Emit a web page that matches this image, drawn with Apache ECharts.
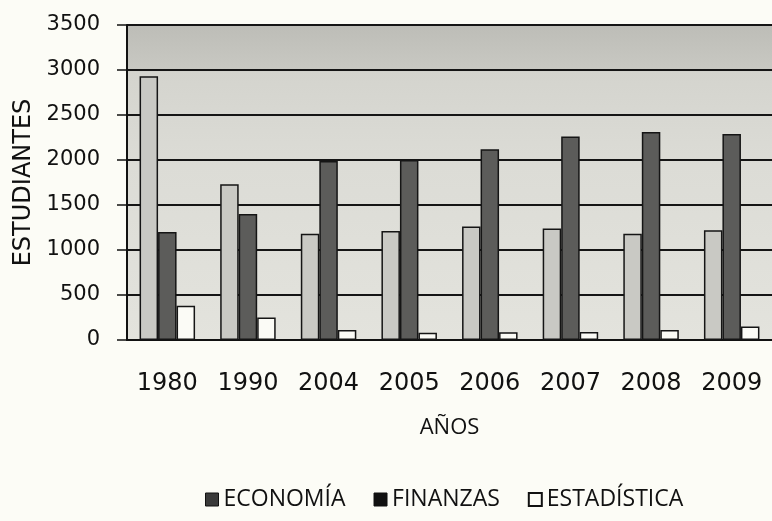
<!DOCTYPE html>
<html>
<head>
<meta charset="utf-8">
<script src="https://cdn.jsdelivr.net/npm/echarts@6/dist/echarts.min.js"></script>
<style>
  html, body { margin: 0; padding: 0; background: #fcfcf6; }
  #chart { width: 772px; height: 521px; }
</style>
</head>
<body>
<div id="chart"></div>
<script>
// datos
const anios = ['1980', '1990', '2004', '2005', '2006', '2007', '2008', '2009']
const economia = [2930, 1730, 1180, 1210, 1260, 1240, 1180, 1220]
const finanzas = [1200, 1400, 1990, 2000, 2120, 2260, 2310, 2290]
const estadistica = [380, 250, 110, 80, 85, 90, 110, 150]

const chart = echarts.init(document.getElementById('chart'))

const borde = { borderColor: '#151515', borderWidth: 1.5 }

const option = {
    backgroundColor: '#fcfcf6',
    animation: false,
    grid: {
        left: 127,
        right: -1,
        top: 25,
        bottom: 181,
        show: true,
        borderWidth: 0,
        backgroundColor: {
            type: 'linear', x: 0, y: 0, x2: 0, y2: 1,
            colorStops: [
                { offset: 0, color: '#bdbdb7' },
                { offset: 0.14, color: '#c8c8c2' },
                { offset: 0.15, color: '#d4d4ce' },
                { offset: 0.45, color: '#dcdcd6' },
                { offset: 1, color: '#e3e3dd' }
            ]
        }
    },
    legend: {
        left: 200,
        top: 483,
        icon: 'rect',
        itemWidth: 13,
        itemHeight: 13,
        itemGap: 28,
        textStyle: { fontFamily: 'Open Sans', fontSize: 23, color: '#111' },
        data: [
            { name: 'ECONOMÍA', itemStyle: { color: '#3a3a3a', borderColor: '#111', borderWidth: 1 } },
            { name: 'FINANZAS', itemStyle: { color: '#111', borderColor: '#111', borderWidth: 1 } },
            { name: 'ESTADÍSTICA', itemStyle: { color: '#fcfcf6', borderColor: '#111', borderWidth: 2 } }
        ]
    },
    xAxis: {
        type: 'category',
        data: anios,
        name: 'AÑOS',
        nameLocation: 'middle',
        nameGap: 77,
        nameTextStyle: { fontFamily: 'Open Sans', fontSize: 22, color: '#111' },
        axisLine: { lineStyle: { color: '#111', width: 2 } },
        axisTick: { length: 7, lineStyle: { color: '#111', width: 2 } },
        axisLabel: { fontFamily: 'DejaVu Sans', fontSize: 24, color: '#111', margin: 32 }
    },
    yAxis: {
        type: 'value',
        min: 0,
        max: 3500,
        interval: 500,
        name: 'ESTUDIANTES',
        nameLocation: 'middle',
        nameGap: 88,
        nameTextStyle: { fontFamily: 'DejaVu Sans', fontSize: 24, color: '#111' },
        axisLine: { show: true, lineStyle: { color: '#111', width: 2 } },
        axisTick: { show: true, length: 10, lineStyle: { color: '#111', width: 1.5 } },
        axisLabel: {
            fontFamily: 'DejaVu Sans', fontSize: 21, color: '#111', margin: 27,
            formatter: (v) => String(v)
        },
        splitLine: { lineStyle: { color: '#151515', width: 2 } }
    },
    series: [
        {
            name: 'ECONOMÍA',
            type: 'bar',
            barWidth: 18.5,
            barGap: '0%',
            data: economia,
            itemStyle: Object.assign({ color: '#c9c9c4' }, borde)
        },
        {
            name: 'FINANZAS',
            type: 'bar',
            barWidth: 18.5,
            barGap: '0%',
            data: finanzas,
            itemStyle: Object.assign({ color: '#5c5c5a' }, borde)
        },
        {
            name: 'ESTADÍSTICA',
            type: 'bar',
            barWidth: 18.5,
            barGap: '0%',
            data: estadistica,
            itemStyle: Object.assign({ color: '#fbfbf6' }, borde)
        }
    ]
}

chart.setOption(option)
</script>
</body>
</html>
